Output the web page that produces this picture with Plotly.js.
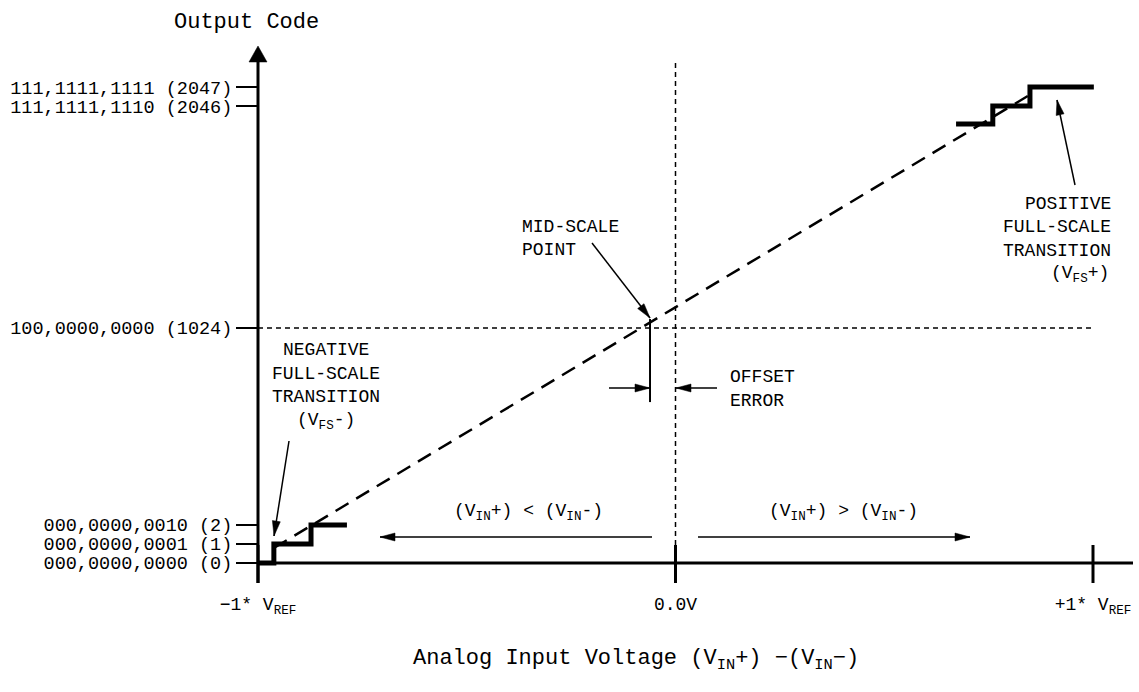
<!DOCTYPE html>
<html>
<head>
<meta charset="utf-8">
<script src="https://cdn.plot.ly/plotly-3.0.1.min.js"></script>
<style>html,body{margin:0;padding:0;background:#fff;}</style>
</head>
<body>
<div id="chart" style="width:1139px;height:692px;"></div>
<script>
// ---------------- data ----------------
// x: differential input in units of VREF
const xTickVals = [-1, 0, 1];
const xTickText = ['\u22121*\u00a0V<sub>REF</sub>', '0.0V', '+1*\u00a0V<sub>REF</sub>'];
// y: output codes shown on a broken (schematic) code axis
const codeTickCodes  = [0, 1, 2, 1024, 2046, 2047];
const codeTickText   = ['000,0000,0000 (0)', '000,0000,0001 (1)', '000,0000,0010 (2)',
                        '100,0000,0000 (1024)', '111,1111,1110 (2046)', '111,1111,1111 (2047)'];
const codeTickLevels = [0, 1, 2, 12.37, 24.05, 25.05];   // level of each code on the schematic axis
// lower end of the transfer staircase (codes 0,1,2)
const lowStepX = [-1, -0.962, -0.873, -0.787];
const lowStepY = [0, 1, 2, 2];
// upper end of the transfer staircase (codes 2045,2046,2047)
const highStepX = [0.672, 0.760, 0.849, 1.002];
const highStepY = [23.1, 24.05, 25.05, 25.05];
// ideal straight-line transfer function
const idealX = [-0.962, 0.86];
const idealY = [0.79, 24.79];
// actual mid-scale transition (shows the offset error)
const midScaleX = -0.061;
const midScaleY = [8.47, 12.84];

// ---------------- geometry helpers ----------------
const W = 1139, H = 692;
const X0PX = 258, Y0PX = 563, XPX = 417.5, YPX = 19;
const px2x = p => -1 + (p - X0PX) / XPX;
const px2y = p => (Y0PX - p) / YPX;
const FONT = 'Liberation Mono, DejaVu Sans Mono, monospace';
const BLACK = '#000';

const shapes = [];
const annotations = [];

function line(x0, y0, x1, y1, width, dash, layer) {
  shapes.push({type: 'line', xref: 'x', yref: 'y', x0: x0, y0: y0, x1: x1, y1: y1,
    layer: layer || 'above', line: {color: BLACK, width: width, dash: dash || 'solid'}});
}
function head(xt, yt, xs, ys, L, Wd) {
  let dx = (xt - xs) * XPX, dy = (yt - ys) * YPX;
  const len = Math.hypot(dx, dy); dx /= len; dy /= len;
  const nx = -dy, ny = dx;
  const b1x = -L * dx + Wd * nx, b1y = -L * dy + Wd * ny;
  const b2x = -L * dx - Wd * nx, b2y = -L * dy - Wd * ny;
  shapes.push({type: 'path', xref: 'x', yref: 'y', xsizemode: 'pixel', ysizemode: 'pixel',
    xanchor: xt, yanchor: yt,
    path: `M0,0L${b1x.toFixed(2)},${b1y.toFixed(2)}L${b2x.toFixed(2)},${b2y.toFixed(2)}Z`,
    fillcolor: BLACK, line: {color: BLACK, width: 0.5}});
}
function arrowPx(tx, ty, hx, hy, width, L, Wd) {
  const xs = px2x(tx), ys = px2y(ty), xt = px2x(hx), yt = px2y(hy);
  line(xs, ys, xt, yt, width);
  head(xt, yt, xs, ys, L || 15, Wd || 4);
}
function text(t, xpx, ypx, anchor, size) {
  annotations.push({text: t, x: px2x(xpx), y: px2y(ypx), xref: 'x', yref: 'y',
    showarrow: false, xanchor: anchor || 'center', yanchor: 'middle',
    font: {family: FONT, size: size || 18, color: BLACK}});
}

// axes
line(px2x(X0PX), px2y(583), px2x(X0PX), px2y(60), 3);          // y axis
head(px2x(X0PX), px2y(46), px2x(X0PX), px2y(80), 16, 9);
line(px2x(X0PX), 0, px2x(1133), 0, 3);                          // x axis
xTickVals.forEach(v => line(v, px2y(545), v, px2y(583), 3));   // x ticks

// reference lines
line(0, 0, 0, px2y(60), 1.5, '5px,4px', 'below');
line(-1, codeTickLevels[3], 1, codeTickLevels[3], 1.5, '5px,4px', 'below');
line(midScaleX, midScaleY[0], midScaleX, midScaleY[1], 2);

// annotation arrows
arrowPx(289, 441, 274, 536, 1.5);     // negative full-scale
arrowPx(1075, 185, 1057, 100, 1.5);   // positive full-scale
arrowPx(592, 243, 650, 318, 1.5);     // mid-scale point
arrowPx(609, 388, 650, 388, 1.5);     // offset error (right)
arrowPx(717, 388, 676, 388, 1.5);     // offset error (left)
arrowPx(652, 537, 380, 537, 1.5);     // VIN+ < VIN-
arrowPx(698, 537, 970, 537, 1.5);     // VIN+ > VIN-

// texts
text('Output Code', 246, 22, 'center', 22);
text('Analog Input Voltage (V<sub>IN</sub>+) \u2212(V<sub>IN</sub>\u2212)', 636, 660, 'center', 22);
['NEGATIVE', 'FULL-SCALE', 'TRANSITION', '(V<sub>FS</sub>-)'].forEach((t, i) =>
  text(t, 326, [350, 374, 397, 421][i], 'center'));
['POSITIVE', 'FULL-SCALE', 'TRANSITION'].forEach((t, i) =>
  text(t, 1113, [204, 227, 251][i], 'right'));
text('(V<sub>FS</sub>+)', 1080, 274, 'center');
text('MID-SCALE', 520, 227, 'left');
text('POINT', 520, 250, 'left');
text('OFFSET', 728, 377, 'left');
text('ERROR', 728, 401, 'left');
text('(V<sub>IN</sub>+) < (V<sub>IN</sub>-)', 528, 512, 'center');
text('(V<sub>IN</sub>+) > (V<sub>IN</sub>-)', 843, 512, 'center');

const traces = [
  {x: idealX, y: idealY, mode: 'lines', line: {color: BLACK, width: 2.5, dash: '15px,9px'}, hoverinfo: 'skip'},
  {x: lowStepX, y: lowStepY, mode: 'lines', line: {color: BLACK, width: 5, shape: 'hv'}, hoverinfo: 'skip'},
  {x: highStepX, y: highStepY, mode: 'lines', line: {color: BLACK, width: 5, shape: 'hv'}, hoverinfo: 'skip'}
];

const layout = {
  width: W, height: H, autosize: false,
  margin: {l: 0, r: 0, t: 0, b: 0, pad: 0},
  paper_bgcolor: '#fff', plot_bgcolor: '#fff',
  font: {family: FONT, size: 18, color: BLACK},
  showlegend: false,
  xaxis: {
    range: [px2x(0), px2x(W)], anchor: 'free', position: (H - Y0PX) / H,
    showgrid: false, zeroline: false, showline: false,
    tickmode: 'array', tickvals: xTickVals, ticktext: xTickText, ticks: '',
    ticklabelstandoff: 28,
    tickfont: {family: FONT, size: 18, color: BLACK}
  },
  yaxis: {
    range: [px2y(H), px2y(0)], anchor: 'free', position: X0PX / W,
    showgrid: false, zeroline: false, showline: false,
    tickmode: 'array', tickvals: codeTickLevels, ticktext: codeTickText,
    ticks: 'outside', ticklen: 22, tickwidth: 2, tickcolor: BLACK,
    tickfont: {family: FONT, size: 18.5, color: BLACK}
  },
  shapes: shapes,
  annotations: annotations
};

Plotly.newPlot('chart', traces, layout, {displayModeBar: false});
</script>
</body>
</html>
